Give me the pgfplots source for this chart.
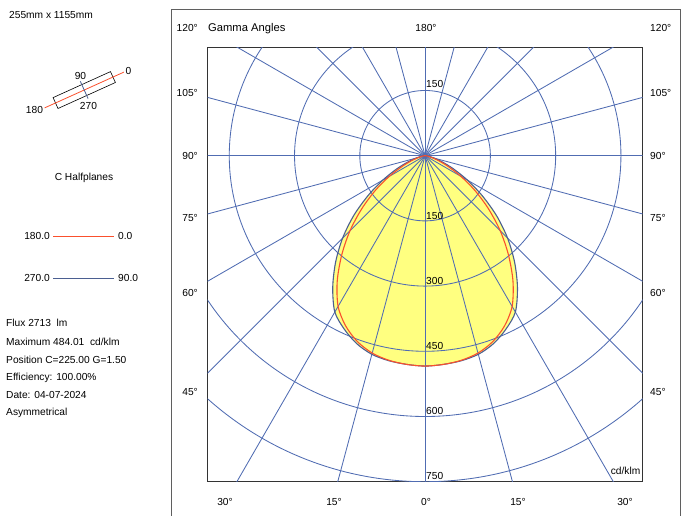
\documentclass[border=0pt]{standalone}
\usepackage{pgfplots}
\pgfplotsset{compat=1.18}
\usepackage{fontspec}
\setmainfont{Liberation Sans}

\definecolor{gridblue}{RGB}{80,108,178}
\definecolor{curveblue}{RGB}{75,95,145}
\definecolor{curvered}{RGB}{250,80,45}
\definecolor{lumyellow}{RGB}{255,255,128}
\definecolor{framegray}{RGB}{95,95,95}

\begin{document}
\fontsize{10.2pt}{12pt}\selectfont
\begin{tikzpicture}[every node/.style={inner sep=0pt, text height=7.3pt, text depth=0pt}]
\useasboundingbox (0,0) rectangle (688pt,-515pt);

\begin{scope}[x=1pt,y=-1pt]
  % outer frame
  \draw[framegray, line width=0.8pt] (171,9) rectangle (680,540);

  % luminaire sketch
  \node[anchor=west] at (9,15) {255mm x 1155mm};
  \draw[black, line width=0.6pt] (115.4,82.5) -- (110.5,71.6) -- (53.1,97.6) -- (58.0,108.5) -- cycle;
  \draw[curvered, line width=0.8pt] (44.6,107.9) -- (123.9,72.1);
  \draw[curveblue, line width=0.8pt] (80.3,81.3) -- (88.1,98.6);
  \node at (80.5,75.5) {90};
  \node at (88.5,106) {270};
  \node at (128.5,71) {0};
  \node at (34.5,109.5) {180};

  % C planes legend
  \node at (84,177) {C Halfplanes};
  \node[anchor=east] at (50,236) {180.0};
  \draw[curvered, line width=0.9pt] (53,236) -- (114,236);
  \node[anchor=west] at (118,236) {0.0};
  \node[anchor=east] at (50,278) {270.0};
  \draw[curveblue, line width=0.9pt] (53,278) -- (114,278);
  \node[anchor=west] at (118,278) {90.0};

  % photometric summary
  \node[anchor=west] at (6,323.3) {Flux 2713~ lm};
  \node[anchor=west] at (6,341.7) {Maximum 484.01~ cd/klm};
  \node[anchor=west] at (6,359.5) {Position C=225.00 G=1.50};
  \node[anchor=west] at (6,377.3) {Efficiency: 100.00\%};
  \node[anchor=west] at (6,395) {Date: 04-07-2024};
  \node[anchor=west] at (6,412.3) {Asymmetrical};

  % gamma angle labels
  \node[anchor=east] at (198,28) {120°};
  \node[anchor=west, font=\fontsize{11.2pt}{13pt}\selectfont] at (208,28) {Gamma Angles};
  \node at (426,28) {180°};
  \node[anchor=west] at (650,28) {120°};
  \node[anchor=east] at (198,93) {105°};
  \node[anchor=west] at (650,93) {105°};
  \node[anchor=east] at (198,156) {90°};
  \node[anchor=west] at (650,156) {90°};
  \node[anchor=east] at (198,218) {75°};
  \node[anchor=west] at (650,218) {75°};
  \node[anchor=east] at (198,293) {60°};
  \node[anchor=west] at (650,293) {60°};
  \node[anchor=east] at (198,392) {45°};
  \node[anchor=west] at (650,392) {45°};
  \node at (225,501.5) {30°};
  \node at (334,501.5) {15°};
  \node at (426,501.5) {0°};
  \node at (518,501.5) {15°};
  \node at (625,501.5) {30°};
\end{scope}

\begin{axis}[
  at={(207.5pt,-481.7pt)}, anchor=south west,
  scale only axis, width=435.2pt, height=434.7pt,
  xmin=-500, xmax=500, ymin=-750, ymax=250,
  xtick=\empty, ytick=\empty,
  axis line style={draw=black!80, line width=0.8pt},
  clip=true,
]
  % luminous flux area
  \addplot[draw=none, fill=lumyellow, smooth, data cs=polar] coordinates {
    (0,0) (-5,3) (-10,9) (-15,22) (-20,42) (-25,72) (-30,112) (-35,160)
    (-40,214) (-45,268) (-50,320) (-55,370) (-60,415) (-65,440) (-70,460)
    (-75,473) (-80,479) (-85,482) (-90,484) (-95,482) (-100,479) (-105,473)
    (-110,460) (-115,440) (-120,415) (-125,370) (-130,320) (-135,268)
    (-140,214) (-145,160) (-150,112) (-155,72) (-160,42) (-165,22) (-170,9)
    (-175,3) (-180,0)
  };

  % polar grid
  \draw[gridblue, line width=0.85pt] (axis cs:0,0) circle[radius=150];
  \draw[gridblue, line width=0.85pt] (axis cs:0,0) circle[radius=300];
  \draw[gridblue, line width=0.85pt] (axis cs:0,0) circle[radius=450];
  \draw[gridblue, line width=0.85pt] (axis cs:0,0) circle[radius=600];
  \draw[gridblue, line width=0.85pt] (axis cs:0,0) circle[radius=750];
  \pgfplotsinvokeforeach{0,15,...,345}{
    \draw[gridblue, line width=0.85pt] (axis cs:0,0) -- ++(#1:800pt);
  }
  \fill[gridblue] (axis cs:0,0) circle[radius=6];

  % C90 - C270
  \addplot[curveblue, line width=1.1pt, smooth, data cs=polar] coordinates {
    (0,0) (-5,3) (-10,9) (-15,22) (-20,42) (-25,72) (-30,112) (-35,160)
    (-40,214) (-45,268) (-50,320) (-55,370) (-60,415) (-65,440) (-70,460)
    (-75,473) (-80,479) (-85,482) (-90,484) (-95,482) (-100,479) (-105,473)
    (-110,460) (-115,440) (-120,415) (-125,370) (-130,320) (-135,268)
    (-140,214) (-145,160) (-150,112) (-155,72) (-160,42) (-165,22) (-170,9)
    (-175,3) (-180,0)
  };
  % C0 - C180
  \addplot[curvered, line width=1.1pt, smooth, data cs=polar] coordinates {
    (0,0) (-5,2) (-10,6) (-15,15) (-20,32) (-25,58) (-30,95) (-35,140)
    (-40,190) (-45,244) (-50,298) (-55,352) (-60,400) (-65,432) (-70,455)
    (-75,470) (-80,478) (-85,482) (-90,484) (-95,482) (-100,478) (-105,470)
    (-110,455) (-115,432) (-120,400) (-125,352) (-130,298) (-135,244)
    (-140,190) (-145,140) (-150,95) (-155,58) (-160,32) (-165,15) (-170,6)
    (-175,2) (-180,0)
  };

  % intensity labels
  \node[anchor=west] at (axis cs:2,150) [yshift=6.5pt] {150};
  \node[anchor=west] at (axis cs:2,-150) [yshift=5.5pt] {150};
  \node[anchor=west] at (axis cs:2,-300) [yshift=5.5pt] {300};
  \node[anchor=west] at (axis cs:2,-450) [yshift=5.5pt] {450};
  \node[anchor=west] at (axis cs:2,-600) [yshift=5.5pt] {600};
  \node[anchor=west] at (axis cs:2,-750) [yshift=5.5pt] {750};
  \node[anchor=east] at (axis cs:495,-750) [yshift=11pt] {cd/klm};
\end{axis}
\end{tikzpicture}
\end{document}
